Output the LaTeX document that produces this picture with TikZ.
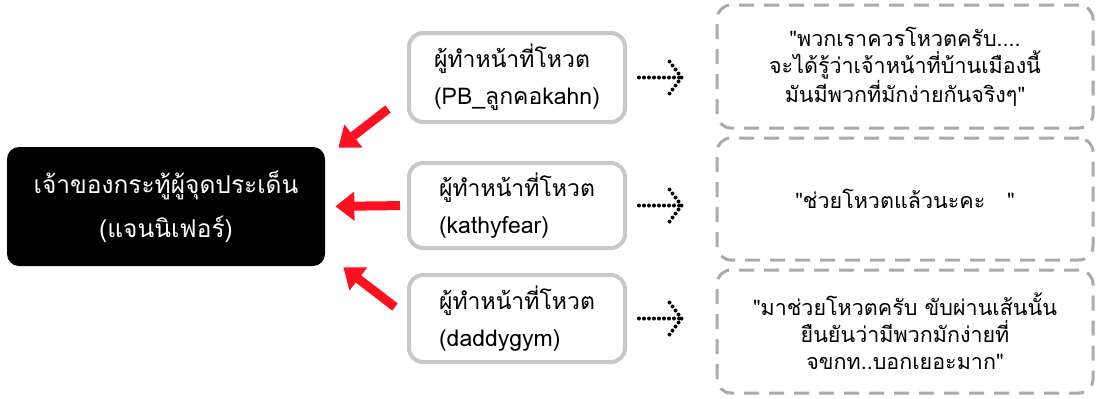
\documentclass[tikz,border=0pt]{standalone}
\usepackage{fontspec}
\newfontfamily\thaifont[Script=Thai]{Loma}
\usetikzlibrary{arrows.meta,calc,positioning}
\definecolor{arrowred}{RGB}{255,16,32}
\definecolor{framegray}{RGB}{200,200,200}
\definecolor{dashgray}{RGB}{170,170,170}

\tikzset{every picture/.style={line width=0.75pt}}

\begin{document}
\begin{tikzpicture}[x=1pt,y=-1pt,>=stealth,
	owner/.style={fill=black,rounded corners=12pt,minimum width=318pt,minimum height=119pt,
		text=white,align=center,font=\thaifont\fontsize{24.5}{44}\selectfont},
	voter/.style={draw=framegray,line width=4pt,rounded corners=14pt,minimum width=216pt,
		align=left,font=\thaifont\fontsize{23}{37}\selectfont},
	quote/.style={draw=dashgray,line width=3pt,dash pattern=on 15pt off 10pt,rounded corners=14pt,
		minimum width=376pt,minimum height=123pt,align=center,font=\thaifont\fontsize{21.5}{27}\selectfont},
	pointer/.style={draw=arrowred,line width=9pt,-{Triangle[width=28pt,length=19pt]}},
	dots/.style={line width=4pt,line cap=round,dash pattern=on 0pt off 5pt}]
	\useasboundingbox (0,0) rectangle (1096,399);
	%Chu topic
	\node[owner] (owner) at (166,206.5) {เจ้าของกระทู้ผู้จุดประเด็น\\(แจนนิเฟอร์)};
	%Nguoi vote
	\node[voter,minimum height=89pt] (m1) at (517,77.5) {ผู้ทำหน้าที่โหวต\\(PB\_ลูกคอkahn)};
	\node[voter,minimum height=85pt] (m2) at (517,205.5) {ผู้ทำหน้าที่โหวต\\(kathyfear)};
	\node[voter,minimum height=87pt] (m3) at (517,318.5) {ผู้ทำหน้าที่โหวต\\(daddygym)};
	%Loi nhan
	\node[quote] (q1) at (905,66.5) {"พวกเราควรโหวตครับ....\\จะได้รู้ว่าเจ้าหน้าที่บ้านเมืองนี้\\มันมีพวกที่มักง่ายกันจริงๆ"};
	\node[quote,minimum height=122pt] (q2) at (905,199) {"ช่วยโหวตแล้วนะคะ ~~"};
	\node[quote] (q3) at (905,331.5) {"มาช่วยโหวตครับ ขับผ่านเส้นนั้น\\ยืนยันว่ามีพวกมักง่ายที่\\จขกท..บอกเยอะมาก"};
	%Mui ten do
	\coordinate (r1) at ($(m1.south west)+(-19,-15)$);
	\coordinate (s1) at ($(owner.north east)+(13,1)$);
	\coordinate (r3) at ($(m3.west)+(-12,-11.5)$);
	\coordinate (s3) at ($(owner.south east)+(18,1)$);
	\draw[pointer] (r1) -- (s1);
	\draw[pointer,shorten <=7pt,shorten >=10pt] (m2.west) -- (owner.east);
	\draw[pointer] (r3) -- (s3);
	%Mui ten cham
	\foreach \i in {1,2,3}{
		\coordinate (t\i) at ($(m\i.east -| q\i.west)+(-34,0)$);
		\draw[dots,shorten <=12pt] (m\i.east) -- (t\i);
		\draw[dots] ($(t\i)+(-12,-16)$) -- (t\i) -- ($(t\i)+(-12,16)$);
	}
\end{tikzpicture}
\end{document}
